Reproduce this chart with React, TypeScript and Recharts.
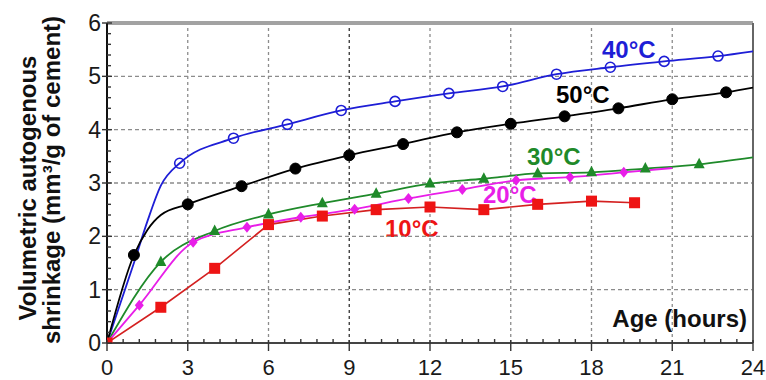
import React from 'react';
import { LineChart, Line, XAxis, YAxis, ReferenceLine } from 'recharts';

// ---- Axis ticks ----
const hourTicks = [0, 3, 6, 9, 12, 15, 18, 21, 24];
const valueTicks = [0, 1, 2, 3, 4, 5, 6];
const hourGrid = [3, 6, 9, 12, 15, 18, 21];
const valueGrid = [1, 2, 3, 4, 5];
const xMinorTicks = Array.from({ length: 41 }, (_, i) => Math.round(i * 6) / 10);
const yMinorTicks = Array.from({ length: 31 }, (_, i) => Math.round(i * 2) / 10);

// ---- Series (hours, shrinkage) ----
const c40Hours = [0, 0.5, 1, 1.5, 2, 2.7, 4.7, 6.7, 8.7, 10.7, 12.7, 14.7, 16.7, 18.7, 20.7, 22.7, 24];
const c40Values = [0, 0.75, 1.5, 2.28, 2.95, 3.37, 3.84, 4.1, 4.36, 4.53, 4.68, 4.81, 5.04, 5.17, 5.28, 5.38, 5.47];
const c40Markers = [2.7, 4.7, 6.7, 8.7, 10.7, 12.7, 14.7, 16.7, 18.7, 20.7, 22.7];

const c50Hours = [0, 1, 1.5, 2, 3, 5, 7, 9, 11, 13, 15, 17, 19, 21, 23, 24];
const c50Values = [0, 1.65, 2.12, 2.4, 2.6, 2.94, 3.27, 3.52, 3.73, 3.95, 4.11, 4.25, 4.4, 4.57, 4.7, 4.79];
const c50Markers = [1, 3, 5, 7, 9, 11, 13, 15, 17, 19, 21, 23];

const c30Hours = [0, 2, 4, 6, 8, 10, 12, 14, 16, 18, 20, 22, 24];
const c30Values = [0, 1.52, 2.1, 2.41, 2.62, 2.8, 2.99, 3.08, 3.18, 3.2, 3.27, 3.35, 3.48];
const c30Markers = [2, 4, 6, 8, 10, 12, 14, 16, 18, 20, 22];

const c20Hours = [0, 1.2, 3.2, 5.2, 7.2, 9.2, 11.2, 13.2, 15.2, 17.2, 19.2, 21];
const c20Values = [0, 0.71, 1.89, 2.17, 2.36, 2.51, 2.71, 2.88, 3.05, 3.11, 3.2, 3.28];
const c20Markers = [1.2, 3.2, 5.2, 7.2, 9.2, 11.2, 13.2, 15.2, 17.2, 19.2];

const c10Hours = [0, 2, 4, 6, 8, 10, 12, 14, 16, 18, 19.6];
const c10Values = [0, 0.67, 1.4, 2.22, 2.38, 2.5, 2.55, 2.5, 2.6, 2.66, 2.63];
const c10Markers = [0, 2, 4, 6, 8, 10, 12, 14, 16, 18, 19.6];

const rows = (hours: number[], values: number[]) => hours.map((h, i) => ({ h, v: values[i] }));

const FONT = '"Liberation Sans", Arial, sans-serif';
const BLUE = '#1e1ed6';
const GREEN = '#1f8a2a';
const MAGENTA = '#e81ee8';
const RED = '#ee1414';

type Shape = 'open' | 'disc' | 'tri' | 'diamond' | 'square';

const makeDot = (marked: number[], shape: Shape, color: string) => (props: any) => {
  const { cx, cy, payload, index } = props;
  const key = `d${index}`;
  if (cx == null || cy == null || !marked.includes(payload.h)) return <g key={key} />;
  switch (shape) {
    case 'open':
      return <circle key={key} cx={cx} cy={cy} r={5} fill="none" stroke={color} strokeWidth={1.6} />;
    case 'disc':
      return <circle key={key} cx={cx} cy={cy} r={5.5} fill={color} stroke={color} />;
    case 'tri':
      return (
        <polygon key={key} points={`${cx},${cy - 6.5} ${cx - 5.5},${cy + 4} ${cx + 5.5},${cy + 4}`} fill={color} />
      );
    case 'diamond':
      return (
        <polygon key={key} points={`${cx},${cy - 5.5} ${cx + 4.5},${cy} ${cx},${cy + 5.5} ${cx - 4.5},${cy}`} fill={color} />
      );
    default:
      return <rect key={key} x={cx - 5.5} y={cy - 5.5} width={11} height={11} fill={color} />;
  }
};

const XTick = (props: any) => {
  const { x, y, payload } = props;
  const v = payload.value;
  const major = hourTicks.some((t) => Math.abs(t - v) < 1e-6);
  const axisY = y - 16;
  return (
    <g>
      <line x1={x} x2={x} y1={major ? axisY - 3 : axisY - 4} y2={major ? axisY + 8 : axisY} stroke="#333" strokeWidth={1.4} />
      {major && (
        <text x={x} y={y} dy="0.71em" textAnchor="middle" fontSize={22} fontFamily={FONT} fill="#1a1a1a">
          {v}
        </text>
      )}
    </g>
  );
};

const YTick = (props: any) => {
  const { x, y, payload } = props;
  const v = payload.value;
  const major = valueTicks.some((t) => Math.abs(t - v) < 1e-6);
  const ax = x + 6;
  return (
    <g>
      <line x1={major ? ax - 5 : ax} x2={major ? ax + 5 : ax + 4} y1={y} y2={y} stroke="#333" strokeWidth={1.4} />
      {major && (
        <text x={x} y={y} dy="0.355em" textAnchor="end" fontSize={23} fontFamily={FONT} fill="#1a1a1a">
          {v}
        </text>
      )}
    </g>
  );
};

const labelStyle = { fontFamily: FONT, fontWeight: 700, fontSize: 24 } as const;

export default function App() {
  return (
    <div style={{ position: 'absolute', left: 0, top: 0, background: '#fff' }}>
      <LineChart width={766} height={380} margin={{ top: 23, right: 13, bottom: 0, left: 0 }}>
        <XAxis
          dataKey="h"
          type="number"
          domain={[0, 24]}
          ticks={xMinorTicks}
          interval={0}
          tick={<XTick />}
          tickLine={false}
          tickSize={8}
          tickMargin={8}
          height={37}
          axisLine={{ stroke: '#444', strokeWidth: 2 }}
          allowDataOverflow
        />
        <YAxis
          dataKey="v"
          type="number"
          domain={[0, 6]}
          ticks={yMinorTicks}
          interval={0}
          tick={<YTick />}
          tickLine={false}
          tickSize={5}
          tickMargin={1}
          width={107}
          axisLine={{ stroke: '#111', strokeWidth: 2 }}
          allowDataOverflow
        />
        {valueGrid.map((v) => (
          <ReferenceLine key={`gy${v}`} y={v} stroke="#8c8c8c" strokeDasharray="4 3" strokeWidth={1.3} />
        ))}
        {hourGrid.map((h) => (
          <ReferenceLine
            key={`gx${h}`}
            x={h}
            stroke={h === 9 ? '#333' : '#8c8c8c'}
            strokeDasharray="3 3"
            strokeWidth={1.3}
          />
        ))}
        <ReferenceLine y={6} stroke="#a2a2a2" strokeWidth={4} />
        <ReferenceLine x={24} stroke="#666" strokeWidth={2} />

        <Line
          data={rows(c40Hours, c40Values)}
          dataKey="v"
          type="monotone"
          stroke={BLUE}
          strokeWidth={1.8}
          dot={makeDot(c40Markers, 'open', BLUE)}
          activeDot={false}
          isAnimationActive={false}
        />
        <Line
          data={rows(c50Hours, c50Values)}
          dataKey="v"
          type="monotone"
          stroke="#000"
          strokeWidth={1.8}
          dot={makeDot(c50Markers, 'disc', '#000')}
          activeDot={false}
          isAnimationActive={false}
        />
        <Line
          data={rows(c30Hours, c30Values)}
          dataKey="v"
          type="monotone"
          stroke={GREEN}
          strokeWidth={1.8}
          dot={makeDot(c30Markers, 'tri', GREEN)}
          activeDot={false}
          isAnimationActive={false}
        />
        <Line
          data={rows(c20Hours, c20Values)}
          dataKey="v"
          type="monotone"
          stroke={MAGENTA}
          strokeWidth={1.8}
          dot={makeDot(c20Markers, 'diamond', MAGENTA)}
          activeDot={false}
          isAnimationActive={false}
        />
        <Line
          data={rows(c10Hours, c10Values)}
          dataKey="v"
          type="linear"
          stroke="#d42020"
          strokeWidth={1.6}
          dot={makeDot(c10Markers, 'square', RED)}
          activeDot={false}
          isAnimationActive={false}
        />

        <text x={36} y={188} transform="rotate(-90, 36, 188)" textAnchor="middle" fill="#111" style={labelStyle}>
          Volumetric autogenous
        </text>
        <text x={60} y={180} transform="rotate(-90, 60, 180)" textAnchor="middle" fill="#111" style={labelStyle}>
          shrinkage (mm³/g of cement)
        </text>
        <text x={602} y={58} fill={BLUE} style={labelStyle}>40°C</text>
        <text x={556} y={103} fill="#000" style={labelStyle}>50°C</text>
        <text x={527} y={165} fill={GREEN} style={labelStyle}>30°C</text>
        <text x={483} y={203} fill={MAGENTA} style={labelStyle}>20°C</text>
        <text x={385} y={237} fill={RED} style={labelStyle}>10°C</text>
        <text x={747} y={327} textAnchor="end" fill="#111" style={labelStyle}>Age (hours)</text>
      </LineChart>
    </div>
  );
}
